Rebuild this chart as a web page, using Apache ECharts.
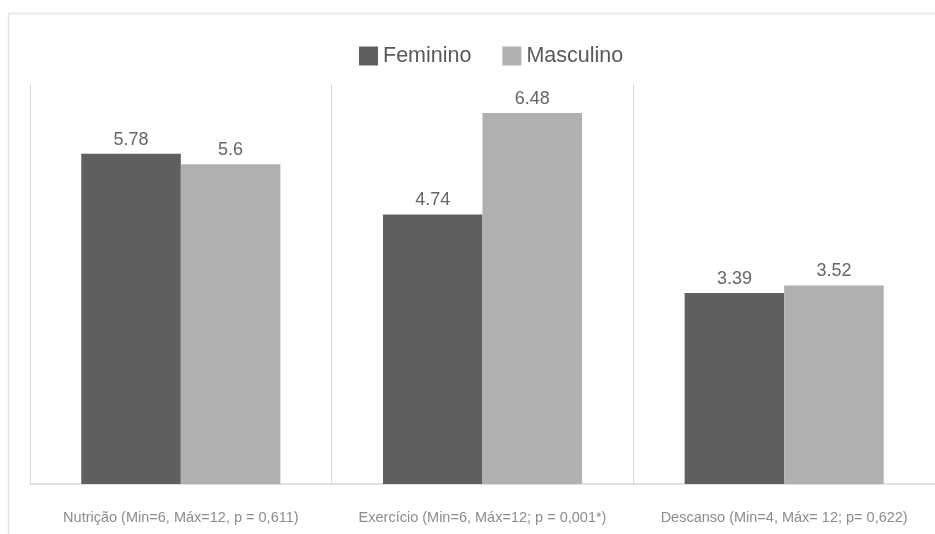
<!DOCTYPE html>
<html>
<head>
<meta charset="utf-8">
<script src="https://cdn.jsdelivr.net/npm/echarts@6/dist/echarts.min.js"></script>
<style>html,body{margin:0;padding:0;background:#fff}#c{width:935px;height:534px}</style>
</head>
<body>
<div id="c"></div>
<script>
const categories = ["Nutrição (Min=6, Máx=12, p = 0,611)", "Exercício (Min=6, Máx=12; p = 0,001*)", "Descanso (Min=4, Máx= 12; p= 0,622)"];
const seriesNames = ["Feminino", "Masculino"];
const feminino = [5.78, 4.74, 3.39];
const masculino = [5.6, 6.48, 3.52];

const chart = echarts.init(document.getElementById('c'), null, {renderer: 'canvas'});
const font = '"Liberation Sans", Arial, sans-serif';
chart.setOption({
  animation: false,
  backgroundColor: '#ffffff',
  graphic: [{
    type: 'rect', shape: {x: 8.5, y: 13.5, width: 1000, height: 1000},
    style: {fill: 'none', stroke: '#e3e3e3', lineWidth: 1.5}, silent: true
  }],
  legend: {
    data: seriesNames,
    top: 40, left: 354,
    itemWidth: 19, itemHeight: 19, itemGap: 31,
    icon: 'rect',
    textStyle: {fontFamily: font, fontSize: 21.5, color: '#595959', padding: [0,0,0,0]}
  },
  grid: {left: 30, right: 0, top: 84, bottom: 50},
  xAxis: {
    type: 'category', data: categories,
    axisLine: {show: true, lineStyle: {color: '#d9d9d9', width: 1.5}},
    axisTick: {show: false},
    splitLine: {show: true, lineStyle: {color: '#d9d9d9', width: 1}},
    axisLabel: {fontFamily: font, fontSize: 14.5, color: '#8c8c8c', margin: 26, interval: 0}
  },
  yAxis: {type: 'value', min: 0.11, max: 6.98, show: false, splitLine: {show: false}},
  series: [
    {name: seriesNames[0], type: 'bar', data: feminino, barGap: '0%', barCategoryGap: '34%',
     itemStyle: {color: '#5f5f5f'},
     label: {show: true, position: 'top', distance: 5, fontFamily: font, fontSize: 18, color: '#666666'}},
    {name: seriesNames[1], type: 'bar', data: masculino, barGap: '0%', barCategoryGap: '34%',
     itemStyle: {color: '#b0b0b0'},
     label: {show: true, position: 'top', distance: 5, fontFamily: font, fontSize: 18, color: '#666666'}}
  ]
});
</script>
</body>
</html>
